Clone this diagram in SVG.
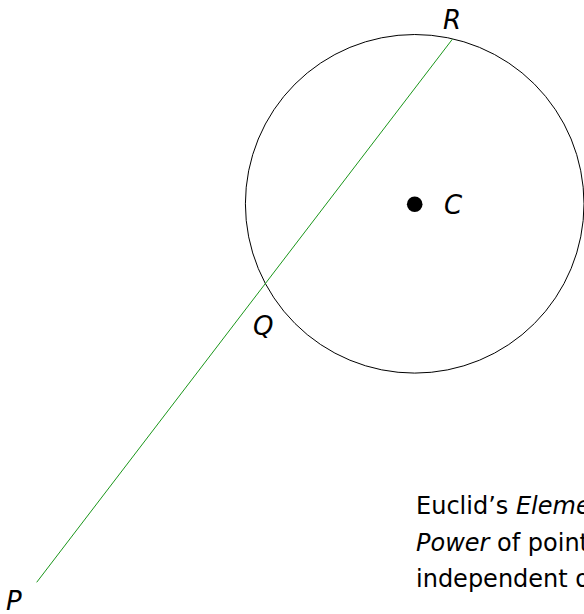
<svg xmlns="http://www.w3.org/2000/svg" width="584" height="614" viewBox="0 0 584 614">
<style>
.lbl{font-family:"DejaVu Sans",sans-serif;font-style:italic;font-size:26px;fill:#000}
.txt{font-family:"DejaVu Sans",sans-serif;font-size:24px;fill:#000}
.it{font-style:italic}
</style>
<rect width="584" height="614" fill="#fff"/>
<g id="circle"><circle cx="414.7" cy="203.8" r="169.3" fill="none" stroke="#000" stroke-width="1"/></g>
<g id="connectors"><line x1="36.7" y1="582.3" x2="452.3" y2="39.3" stroke="#1a961a" stroke-width="1"/></g>
<g id="C"><circle cx="414.7" cy="204.3" r="7.8" fill="#000"/><text class="lbl" x="444" y="214">C</text></g>
<g id="R"><text class="lbl" x="443" y="29.3">R</text></g>
<g id="Q"><text class="lbl" x="253" y="335">Q</text></g>
<g id="P"><text class="lbl" x="6" y="610">P</text></g>
<g id="caption">
<text class="txt" x="416" y="514">Euclid’s <tspan class="it">Elements</tspan></text>
<text class="txt" x="416" y="551"><tspan class="it">Power</tspan> of point</text>
<text class="txt" x="416" y="587">independent of</text>
</g>
</svg>
